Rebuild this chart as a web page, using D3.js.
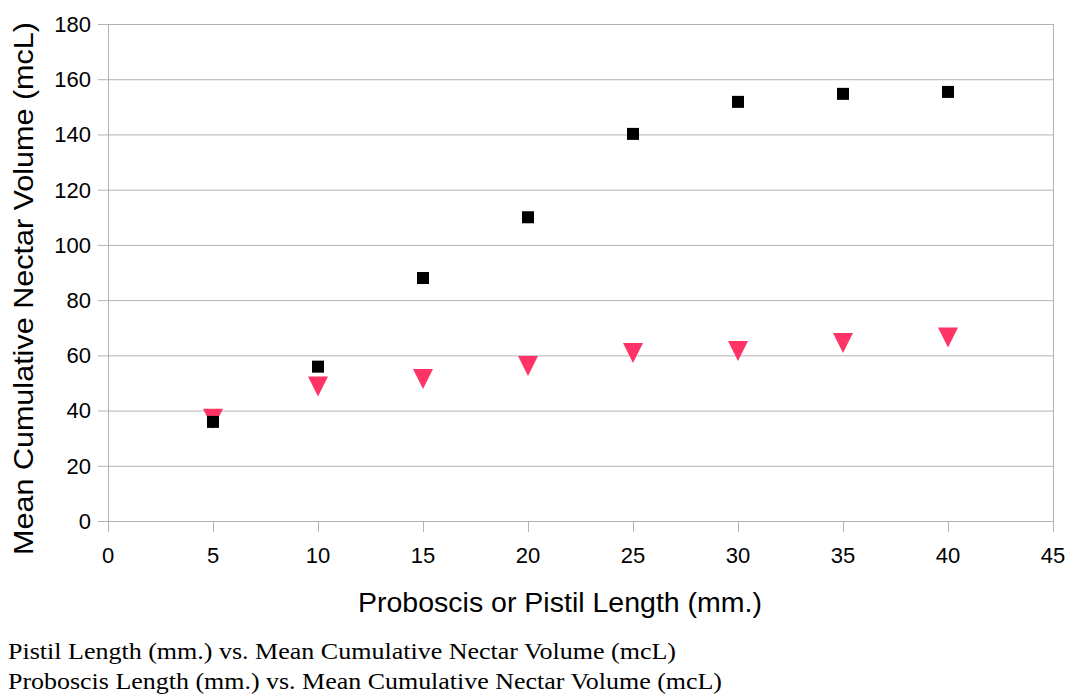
<!DOCTYPE html>
<html>
<head>
<meta charset="utf-8">
<script src="https://cdn.jsdelivr.net/npm/d3@7"></script>
<style>
  body { margin: 0; background: #fff; }
  text { font-family: "Liberation Sans", Arial, sans-serif; fill: #000; }
  .legend text { font-family: "Liberation Serif", "Times New Roman", serif; }
</style>
</head>
<body>
<svg id="chart" width="1071" height="698"></svg>
<script>
// data
const lengths = [5, 10, 15, 20, 25, 30, 35, 40];
const pistilVolume = [37, 48.7, 51.4, 56.1, 60.8, 61.6, 64.5, 66.5];
const proboscisVolume = [35.9, 55.9, 88, 110, 140.2, 151.8, 154.7, 155.4];
const xTicks = [0, 5, 10, 15, 20, 25, 30, 35, 40, 45];
const yTicks = [0, 20, 40, 60, 80, 100, 120, 140, 160, 180];
const legendLabels = [
  'Pistil Length (mm.) vs. Mean Cumulative Nectar Volume (mcL)',
  'Proboscis Length (mm.) vs. Mean Cumulative Nectar Volume (mcL)'
];

const svg = d3.select('#chart');
const plotL = 108, plotR = 1053, plotT = 24, plotB = 521;

const x = d3.scaleLinear().domain([0, 45]).range([plotL, plotR]);
const y = d3.scaleLinear().domain([0, 180]).range([plotB, plotT]);
const grey = '#b3b3b3';

// gridlines
svg.append('g')
  .selectAll('line')
  .data(yTicks)
  .enter().append('line')
  .attr('x1', plotL - 10).attr('x2', plotR)
  .attr('y1', d => y(d) + 0.5).attr('y2', d => y(d) + 0.5)
  .style('stroke', grey);

// x axis ticks
svg.append('g')
  .selectAll('line')
  .data(xTicks)
  .enter().append('line')
  .attr('x1', d => x(d) + 0.5).attr('x2', d => x(d) + 0.5)
  .attr('y1', plotB).attr('y2', plotB + 11)
  .style('stroke', grey);

// left axis + right border
svg.append('line')
  .attr('x1', plotL + 0.5).attr('x2', plotL + 0.5)
  .attr('y1', plotT).attr('y2', plotB)
  .style('stroke', grey);
svg.append('line')
  .attr('x1', plotR + 0.5).attr('x2', plotR + 0.5)
  .attr('y1', plotT).attr('y2', plotB)
  .style('stroke', grey);

// tick labels
svg.append('g')
  .selectAll('text')
  .data(yTicks)
  .enter().append('text')
  .attr('x', 91)
  .attr('y', d => y(d))
  .attr('dy', '0.36em')
  .attr('text-anchor', 'end')
  .style('font-size', '22px')
  .text(d => d);

svg.append('g')
  .selectAll('text')
  .data(xTicks)
  .enter().append('text')
  .attr('x', d => x(d))
  .attr('y', 563)
  .attr('text-anchor', 'middle')
  .style('font-size', '22px')
  .text(d => d);

// axis titles
svg.append('text')
  .attr('transform', 'translate(33,' + (555 + 22) / 2 + ') rotate(-90)')
  .attr('text-anchor', 'middle')
  .style('font-size', '28px')
  .attr('textLength', 533)
  .attr('lengthAdjust', 'spacingAndGlyphs')
  .text('Mean Cumulative Nectar Volume (mcL)');

svg.append('text')
  .attr('x', (358 + 762) / 2)
  .attr('y', 612)
  .attr('text-anchor', 'middle')
  .style('font-size', '27px')
  .attr('textLength', 404)
  .attr('lengthAdjust', 'spacingAndGlyphs')
  .text('Proboscis or Pistil Length (mm.)');

// pistil: pink down triangles
const tri = 10;
svg.append('g')
  .selectAll('path')
  .data(lengths)
  .enter().append('path')
  .attr('d', (d, i) => {
    const cx = x(d), cy = y(pistilVolume[i]);
    return 'M' + (cx - tri) + ',' + (cy - tri) + 'L' + (cx + tri) + ',' + (cy - tri) + 'L' + cx + ',' + (cy + tri) + 'Z';
  })
  .style('fill', '#ff3366');

// proboscis: black squares
const sq = 12;
svg.append('g')
  .selectAll('rect')
  .data(lengths)
  .enter().append('rect')
  .attr('x', d => x(d) - sq / 2)
  .attr('y', (d, i) => y(proboscisVolume[i]) - sq / 2)
  .attr('width', sq).attr('height', sq)
  .style('fill', '#000');

// legend (text only)
const legend = svg.append('g').attr('class', 'legend');
legend.selectAll('text')
  .data(legendLabels)
  .enter().append('text')
  .attr('x', 8)
  .attr('y', (d, i) => 659 + i * 30)
  .style('font-size', '24px')
  .attr('textLength', (d, i) => i === 0 ? 668 : 714)
  .attr('lengthAdjust', 'spacingAndGlyphs')
  .text(d => d);
</script>
</body>
</html>
